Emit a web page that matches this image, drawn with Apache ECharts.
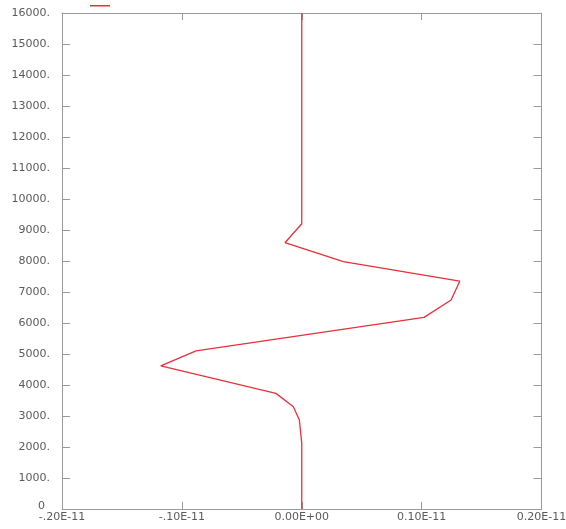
<!DOCTYPE html>
<html>
<head>
<meta charset="utf-8">
<script src="https://cdn.jsdelivr.net/npm/echarts@6/dist/echarts.min.js"></script>
<style>
html,body{margin:0;padding:0;background:#fff;}
#chart{width:566px;height:529px;}
</style>
</head>
<body>
<div id="chart"></div>
<script>
// Heights (y) and values (x) read from the profile, bottom to top
var heights = [0, 2130, 2870, 3300, 3730, 4620, 5100, 6180, 6740, 7350, 7980, 8590, 9200, 16000];
var values  = [0, 0, -0.02e-12, -0.07e-12, -0.215e-12, -1.176e-12, -0.882e-12, 1.02e-12, 1.246e-12, 1.318e-12, 0.347e-12, -0.14e-12, 0, 0];
var xTickLabels = ['-.20E-11', '-.10E-11', '0.00E+00', '0.10E-11', '0.20E-11'];
var yTickLabels = ['0', '1000.', '2000.', '3000.', '4000.', '5000.', '6000.', '7000.', '8000.', '9000.', '10000.', '11000.', '12000.', '13000.', '14000.', '15000.', '16000.'];
var seriesName = 'w';

var points = heights.map(function (h, i) { return [values[i], h]; });

var axisLineStyle = { color: '#9a9a9a', width: 1 };
var tickStyle = { color: '#9a9a9a', width: 1 };
var labelFont = { fontFamily: 'DejaVu Sans', fontSize: 11, color: '#5a5a5a' };

function xLabel(v) {
  var idx = Math.round(v / 1e-12) + 2;
  return xTickLabels[idx] || '';
}
function yLabel(v) {
  var idx = Math.round(v / 1000);
  if (idx === 0) return '{z|' + yTickLabels[0] + '}';
  return yTickLabels[idx] || '';
}

var chart = echarts.init(document.getElementById('chart'), null, { renderer: 'canvas' });
chart.setOption({
  animation: false,
  backgroundColor: '#ffffff',
  grid: { left: 62, right: 24.5, top: 13, bottom: 20, containLabel: false, outerBoundsMode: 'none' },
  legend: {
    show: true,
    left: 85, top: 0,
    icon: 'rect',
    itemWidth: 20, itemHeight: 1.5,
    itemGap: 0,
    formatter: function () { return ''; },
    textStyle: { fontSize: 1 },
    data: [seriesName]
  },
  xAxis: [{
    type: 'value',
    min: -2e-12, max: 2e-12, interval: 1e-12,
    position: 'bottom',
    axisLine: { show: true, onZero: false, lineStyle: axisLineStyle },
    axisTick: { show: true, inside: true, length: 7, lineStyle: tickStyle },
    axisLabel: Object.assign({ show: true, margin: 3, formatter: xLabel, showMinLabel: true, showMaxLabel: true }, labelFont),
    splitLine: { show: false }
  }, {
    type: 'value',
    min: -2e-12, max: 2e-12, interval: 1e-12,
    position: 'top',
    axisLine: { show: true, onZero: false, lineStyle: axisLineStyle },
    axisTick: { show: true, inside: true, length: 7, lineStyle: tickStyle },
    axisLabel: { show: false },
    splitLine: { show: false }
  }],
  yAxis: [{
    type: 'value',
    min: 0, max: 16000, interval: 1000,
    position: 'left',
    axisLine: { show: true, onZero: false, lineStyle: axisLineStyle },
    axisTick: { show: true, inside: true, length: 8, lineStyle: tickStyle },
    axisLabel: Object.assign({
      show: true, margin: 12, formatter: yLabel, showMinLabel: true, showMaxLabel: true,
      rich: { z: { fontFamily: 'DejaVu Sans', fontSize: 11, color: '#5a5a5a', padding: [0, 5, 5, 0] } }
    }, labelFont),
    splitLine: { show: false }
  }, {
    type: 'value',
    min: 0, max: 16000, interval: 1000,
    position: 'right',
    axisLine: { show: true, onZero: false, lineStyle: axisLineStyle },
    axisTick: { show: true, inside: true, length: 8, lineStyle: tickStyle },
    axisLabel: { show: false },
    splitLine: { show: false }
  }],
  series: [{
    name: seriesName,
    type: 'line',
    xAxisIndex: 0,
    yAxisIndex: 0,
    data: points,
    showSymbol: false,
    symbol: 'none',
    smooth: false,
    lineStyle: { color: '#e8303a', width: 1.3 },
    itemStyle: { color: '#e8303a' }
  }]
});
</script>
</body>
</html>
